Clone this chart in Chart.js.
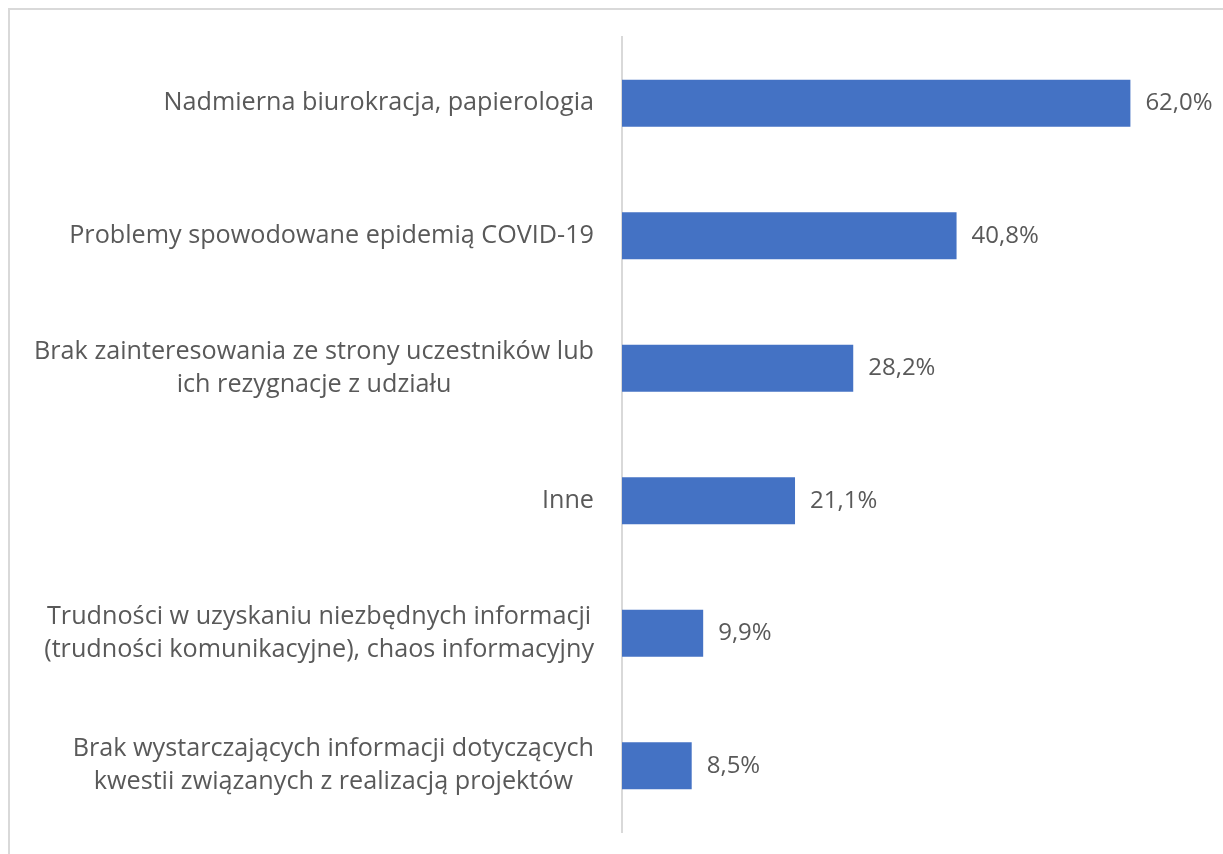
<!DOCTYPE html>
<html>
<head>
<meta charset="utf-8">
<script src="https://cdn.jsdelivr.net/npm/chart.js@4.4.0/dist/chart.umd.min.js"></script>
<style>
  html, body { margin: 0; padding: 0; background: #fff; }
  #wrap { position: relative; width: 1223px; height: 854px; overflow: hidden; }
  .frame { position: absolute; left: 8px; top: 8px; right: -10px; bottom: -10px;
           border-top: 2px solid #d9d9d9; border-left: 2px solid #d9d9d9; }
  canvas { position: absolute; left: 0; top: 0; }
</style>
</head>
<body>
<div id="wrap">
  <div class="frame"></div>
  <canvas id="chart" width="1223" height="854"></canvas>
</div>
<script>
const categories = [
  ["Nadmierna biurokracja, papierologia"],
  ["Problemy spowodowane epidemią COVID-19"],
  ["Brak zainteresowania ze strony uczestników lub", "ich rezygnacje z udziału"],
  ["Inne"],
  ["Trudności w uzyskaniu niezbędnych informacji", "(trudności komunikacyjne), chaos informacyjny"],
  ["Brak wystarczających informacji dotyczących", "kwestii związanych z realizacją projektów"]
];
const values = [62.0, 40.8, 28.2, 21.1, 9.9, 8.5];

const textColor = '#595959';
const fontFamily = '"Open Sans", sans-serif';
const catFontSize = 25.2;
const valFontSize = 24;
const lineGap = 33;

const fmtPct = v => v.toFixed(1).replace('.', ',') + '%';

// category labels: block right-aligned, lines centered inside the block
const catLabels = {
  id: 'catLabels',
  afterDraw(chart) {
    const ctx = chart.ctx;
    const yScale = chart.scales.y;
    const rightEdge = yScale.right - 28;
    ctx.save();
    ctx.font = catFontSize + 'px ' + fontFamily;
    ctx.fillStyle = textColor;
    ctx.textAlign = 'center';
    ctx.textBaseline = 'middle';
    categories.forEach((lines, i) => {
      const y = yScale.getPixelForTick(i);
      const w = Math.max(...lines.map(l => ctx.measureText(l).width));
      const cx = rightEdge - w / 2;
      const y0 = y - (lines.length - 1) * lineGap / 2;
      lines.forEach((l, j) => ctx.fillText(l, cx, y0 + j * lineGap));
    });
    ctx.restore();
  }
};

const valueLabels = {
  id: 'valueLabels',
  afterDatasetsDraw(chart) {
    const ctx = chart.ctx;
    const meta = chart.getDatasetMeta(0);
    ctx.save();
    ctx.font = valFontSize + 'px ' + fontFamily;
    ctx.fillStyle = textColor;
    ctx.textAlign = 'left';
    ctx.textBaseline = 'middle';
    meta.data.forEach((bar, i) => {
      ctx.fillText(fmtPct(values[i]), bar.x + 15, bar.y);
    });
    ctx.restore();
  }
};

new Chart(document.getElementById('chart'), {
  type: 'bar',
  data: {
    labels: categories,
    datasets: [{
      data: values,
      backgroundColor: '#4472c4',
      borderWidth: 0,
      barPercentage: 1,
      categoryPercentage: 0.355
    }]
  },
  options: {
    indexAxis: 'y',
    responsive: false,
    animation: false,
    layout: { padding: { left: 0, right: 27, top: 37, bottom: 22 } },
    plugins: { legend: { display: false }, tooltip: { enabled: false } },
    scales: {
      x: { display: false, min: 0, max: 70 },
      y: {
        grid: { display: false },
        border: { display: true, color: '#d9d9d9', width: 2 },
        ticks: { display: false },
        afterFit(scale) { scale.width = 622; }
      }
    }
  },
  plugins: [catLabels, valueLabels]
});
</script>
</body>
</html>
